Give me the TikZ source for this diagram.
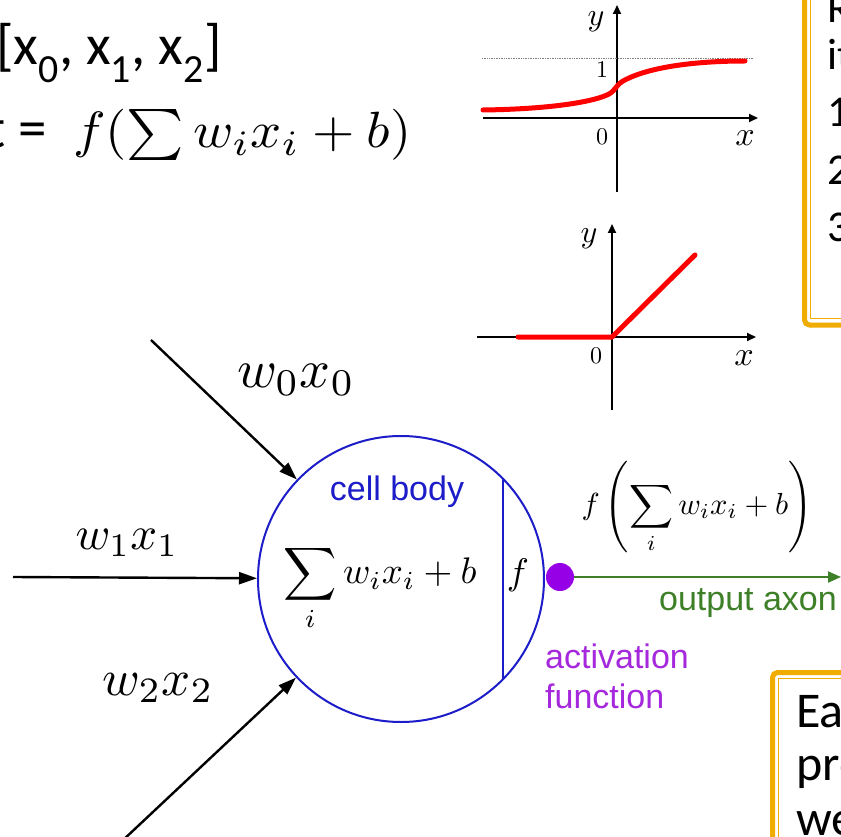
\documentclass[tikz,border=0pt]{standalone}
\usepackage{graphicx}
\usepackage{fontspec}
\newfontfamily\calfont{Carlito}
\newfontfamily\helv{Liberation Sans}
\usetikzlibrary{arrows.meta}
\definecolor{cellblue}{RGB}{28,28,200}
\definecolor{axongreen}{RGB}{62,128,40}
\definecolor{dotpurple}{RGB}{150,0,230}
\definecolor{actpurple}{RGB}{165,40,220}
\definecolor{boxgold}{RGB}{240,172,0}
\newcommand{\fsz}[1]{\fontsize{#1}{#1}\selectfont}
\newcommand{\scmath}[2]{\scalebox{#1}{$#2$}}
\begin{document}
\begin{tikzpicture}[x=1pt,y=-1pt,
  inarrow/.style={line width=2.4pt, -{Triangle[length=18pt,width=12pt]}},
  axisline/.style={line width=2pt, -{Triangle[length=9pt,width=8pt]}},
  curve/.style={red, line width=5pt, line cap=round, line join=round},
  lbl/.style={inner sep=0pt},
  goldthick/.style={boxgold, line width=5pt, rounded corners=5pt},
  goldthin/.style={boxgold, line width=1.5pt}]
\useasboundingbox (0,0) rectangle (841,837);
\clip (0,0) rectangle (841,837);
\fill[white] (0,0) rectangle (841,837);

% top-left formulas
\node[lbl, anchor=base west, font=\calfont\fsz{57}] (vec) at (-4,65) {[x\textsubscript{0}, x\textsubscript{1}, x\textsubscript{2}]};
\node[lbl, anchor=base east, font=\calfont\fsz{57}] (teq) at (47,148) {t =};
\node[lbl, anchor=base west] (form) at (73,148) {\scalebox{5.45}[5.1]{$f(\sum w_i x_i + b)$}};

% sigmoid graph
\coordinate (s0) at (483,118); \coordinate (s1) at (758,118);
\coordinate (s2) at (617,192); \coordinate (s3) at (617,5);
\draw[axisline] (s0) -- (s1);
\draw[axisline] (s2) -- (s3);
\coordinate (d0) at (482,58); \coordinate (d1) at (753,58);
\draw[gray, line width=0.7pt, densely dotted] (d0) -- (d1);
\draw[curve] (483,110) .. controls (555,109) and (596,101) .. (609,94)
  .. controls (616,90) and (615,86) .. (623,81)
  .. controls (650,66) and (700,61) .. (745,61);
\node[lbl] (sy) at (596,22) {\scmath{3.2}{y}};
\node[lbl] (s1l) at (602,70) {\scmath{2.4}{1}};
\node[lbl] (s0l) at (602,137) {\scmath{2.4}{0}};
\node[lbl] (sx) at (745,138) {\scmath{3.4}{x}};

% relu graph
\coordinate (r0) at (477,337); \coordinate (r1) at (756,337);
\coordinate (r2) at (612,410); \coordinate (r3) at (612,224);
\draw[axisline] (r0) -- (r1);
\draw[axisline] (r2) -- (r3);
\draw[curve] (518,337) -- (612,337) -- (695,255);
\node[lbl] (ry) at (589,239) {\scmath{3.2}{y}};
\node[lbl] (r0l) at (596,356) {\scmath{2.4}{0}};
\node[lbl] (rx) at (744,358) {\scmath{3.4}{x}};

% top-right box
\draw[goldthick] (804.5,-20) -- (804.5,325) -- (860,325);
\draw[goldthin] (810.5,-20) -- (810.5,318.5) -- (860,318.5);
\begin{scope}[every node/.style={lbl, anchor=west, font=\calfont\fsz{44}}]
\node (tr0) at (827,8) {R};
\node (tr1) at (827,55) {it};
\node (tr2) at (827,112) {1};
\node (tr3) at (827,170) {2};
\node (tr4) at (827,227) {3};
\end{scope}

% bottom-right box
\draw[goldthick] (772.5,860) -- (772.5,672.5) -- (860,672.5);
\draw[goldthin] (778.5,860) -- (778.5,678.5) -- (860,678.5);
\begin{scope}[every node/.style={lbl, anchor=base west, font=\calfont\fsz{50}}]
\node (br0) at (796,727) {Ea};
\node (br1) at (796,780) {pro};
\node (br2) at (796,835) {we};
\end{scope}

% neuron
\node[draw=cellblue, line width=2pt, circle, minimum size=286pt, inner sep=0pt] (cell) at (401,579) {};
\coordinate (vl0) at (503,479); \coordinate (vl1) at (503,679);
\draw[cellblue, line width=1.8pt] (vl0) -- (vl1);
\node[lbl, cellblue, font=\helv\fsz{34}] (cb) at (397,492) {cell body};
\node[lbl] (sum) at (380,588) {\scmath{3.7}{\displaystyle\sum_i w_i x_i + b}};
\node[lbl] (fa) at (518,575) {\scmath{3.7}{f}};

\node[circle, fill=dotpurple, minimum size=28pt, inner sep=0pt] (dot) at (560,577) {};
\coordinate (axend) at (841,577);
\draw[axongreen, line width=2pt, -{Triangle[length=13pt,width=11pt]}] (dot) -- (axend);
\node[lbl, axongreen, font=\helv\fsz{34}] (oa) at (748,603) {output axon};
\node[lbl] (fout) at (697,507) {\scmath{3.05}{\displaystyle f\left(\sum_i w_i x_i + b\right)}};
\node[lbl, actpurple, anchor=west, align=left, font=\helv\fsz{34}] (act) at (545,676) {activation\\[6pt]function};

\coordinate (in0) at (151,340);
\coordinate (in1) at (13,577);
\coordinate (in2) at (121,842);
\draw[inarrow] (in0) -- (cell);
\draw[inarrow] (in1) -- (cell);
\draw[inarrow] (in2) -- (cell);
\node[lbl] (l0) at (296,380) {\scmath{5.4}{w_0x_0}};
\node[lbl] (l1) at (127,543) {\scmath{4.7}{w_1x_1}};
\node[lbl] (l2) at (158,688) {\scmath{5.1}{w_2x_2}};
\end{tikzpicture}
\end{document}
